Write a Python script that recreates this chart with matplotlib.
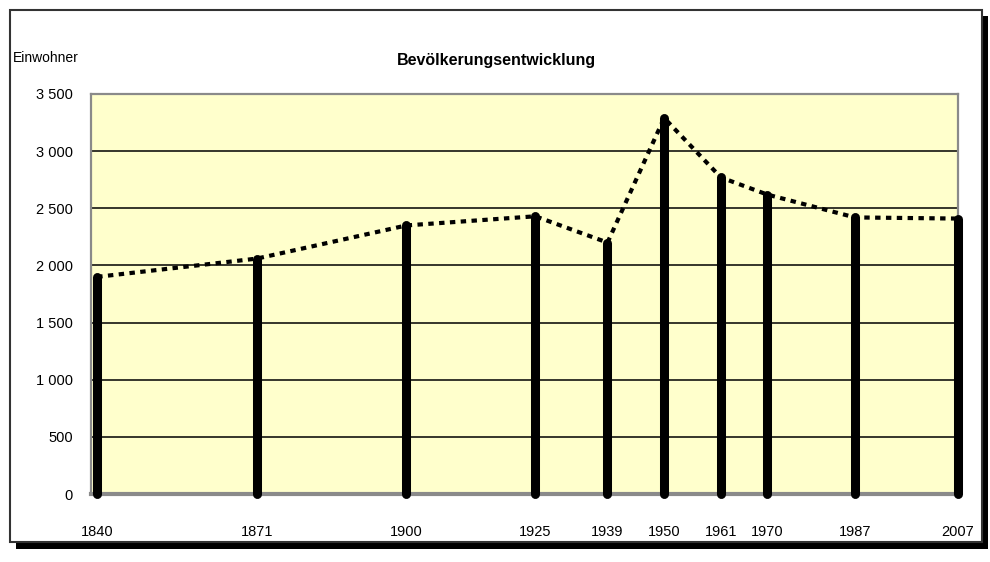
import matplotlib
matplotlib.use("Agg")
import matplotlib.pyplot as plt
from matplotlib.patches import Rectangle
from matplotlib.ticker import FuncFormatter

plt.rcParams["font.family"] = ["Liberation Sans Narrow", "Liberation Sans", "DejaVu Sans"]

# population counts per census year
years = [1840, 1871, 1900, 1925, 1939, 1950, 1961, 1970, 1987, 2007]
einwohner = [1900, 2060, 2350, 2430, 2200, 3290, 2770, 2620, 2420, 2410]
y_ticks = [0, 500, 1000, 1500, 2000, 2500, 3000, 3500]

title = "Bevölkerungsentwicklung"
y_label = "Einwohner"

W, H = 990, 562
fig = plt.figure(figsize=(W / 100, H / 100), dpi=100)


def px_box(x0, y0, x1, y1):
    """Pixel box (top-left origin) -> figure-fraction (x, y, w, h)."""
    return x0 / W, 1 - y1 / H, (x1 - x0) / W, (y1 - y0) / H


# outer frame with a black drop shadow
x, y, w, h = px_box(16, 16, 988, 549)
fig.add_artist(Rectangle((x, y), w, h, transform=fig.transFigure,
                         facecolor="black", edgecolor="none", zorder=0))
x, y, w, h = px_box(10, 10, 982, 542)
fig.add_artist(Rectangle((x, y), w, h, transform=fig.transFigure,
                         facecolor="white", edgecolor="#333333", linewidth=1.5, zorder=1))

ax = fig.add_axes(px_box(91, 94, 958, 494))
ax.set_zorder(2)
ax.set_facecolor("#FFFFCC")
ax.set_xlim(1838.8, 2007)
ax.set_ylim(0, 3500)

for v in y_ticks[1:-1]:
    ax.axhline(v, color="black", lw=1.1, zorder=1)

ax.vlines(years, 0, einwohner, color="black", lw=6.5, capstyle="round",
          zorder=3, clip_on=False)
ax.plot(years, einwohner, color="black", lw=3.0, linestyle=(0, (1.3, 1.3)),
        zorder=4, clip_on=False)

for side in ("top", "left", "right"):
    ax.spines[side].set_color("#8a8a8a")
    ax.spines[side].set_linewidth(1.6)
ax.spines["bottom"].set_color("#8a8a8a")
ax.spines["bottom"].set_linewidth(3.0)

ax.set_yticks(y_ticks)
ax.yaxis.set_major_formatter(FuncFormatter(lambda v, _: f"{int(v):,}".replace(",", " ")))
ax.set_xticks(years)
ax.set_xticklabels([str(y) for y in years])
ax.tick_params(axis="both", length=0, labelsize=10.5, colors="black")
ax.tick_params(axis="y", pad=13)
ax.tick_params(axis="x", pad=22)

fig.text(96 / W + 400 / W, 1 - 60 / H, title, ha="center", va="center",
         fontsize=11.5, fontweight="bold")
fig.text(13 / W, 1 - 58 / H, y_label, ha="left", va="center", fontsize=10)

fig.savefig("out.png", dpi=100, facecolor="white")
